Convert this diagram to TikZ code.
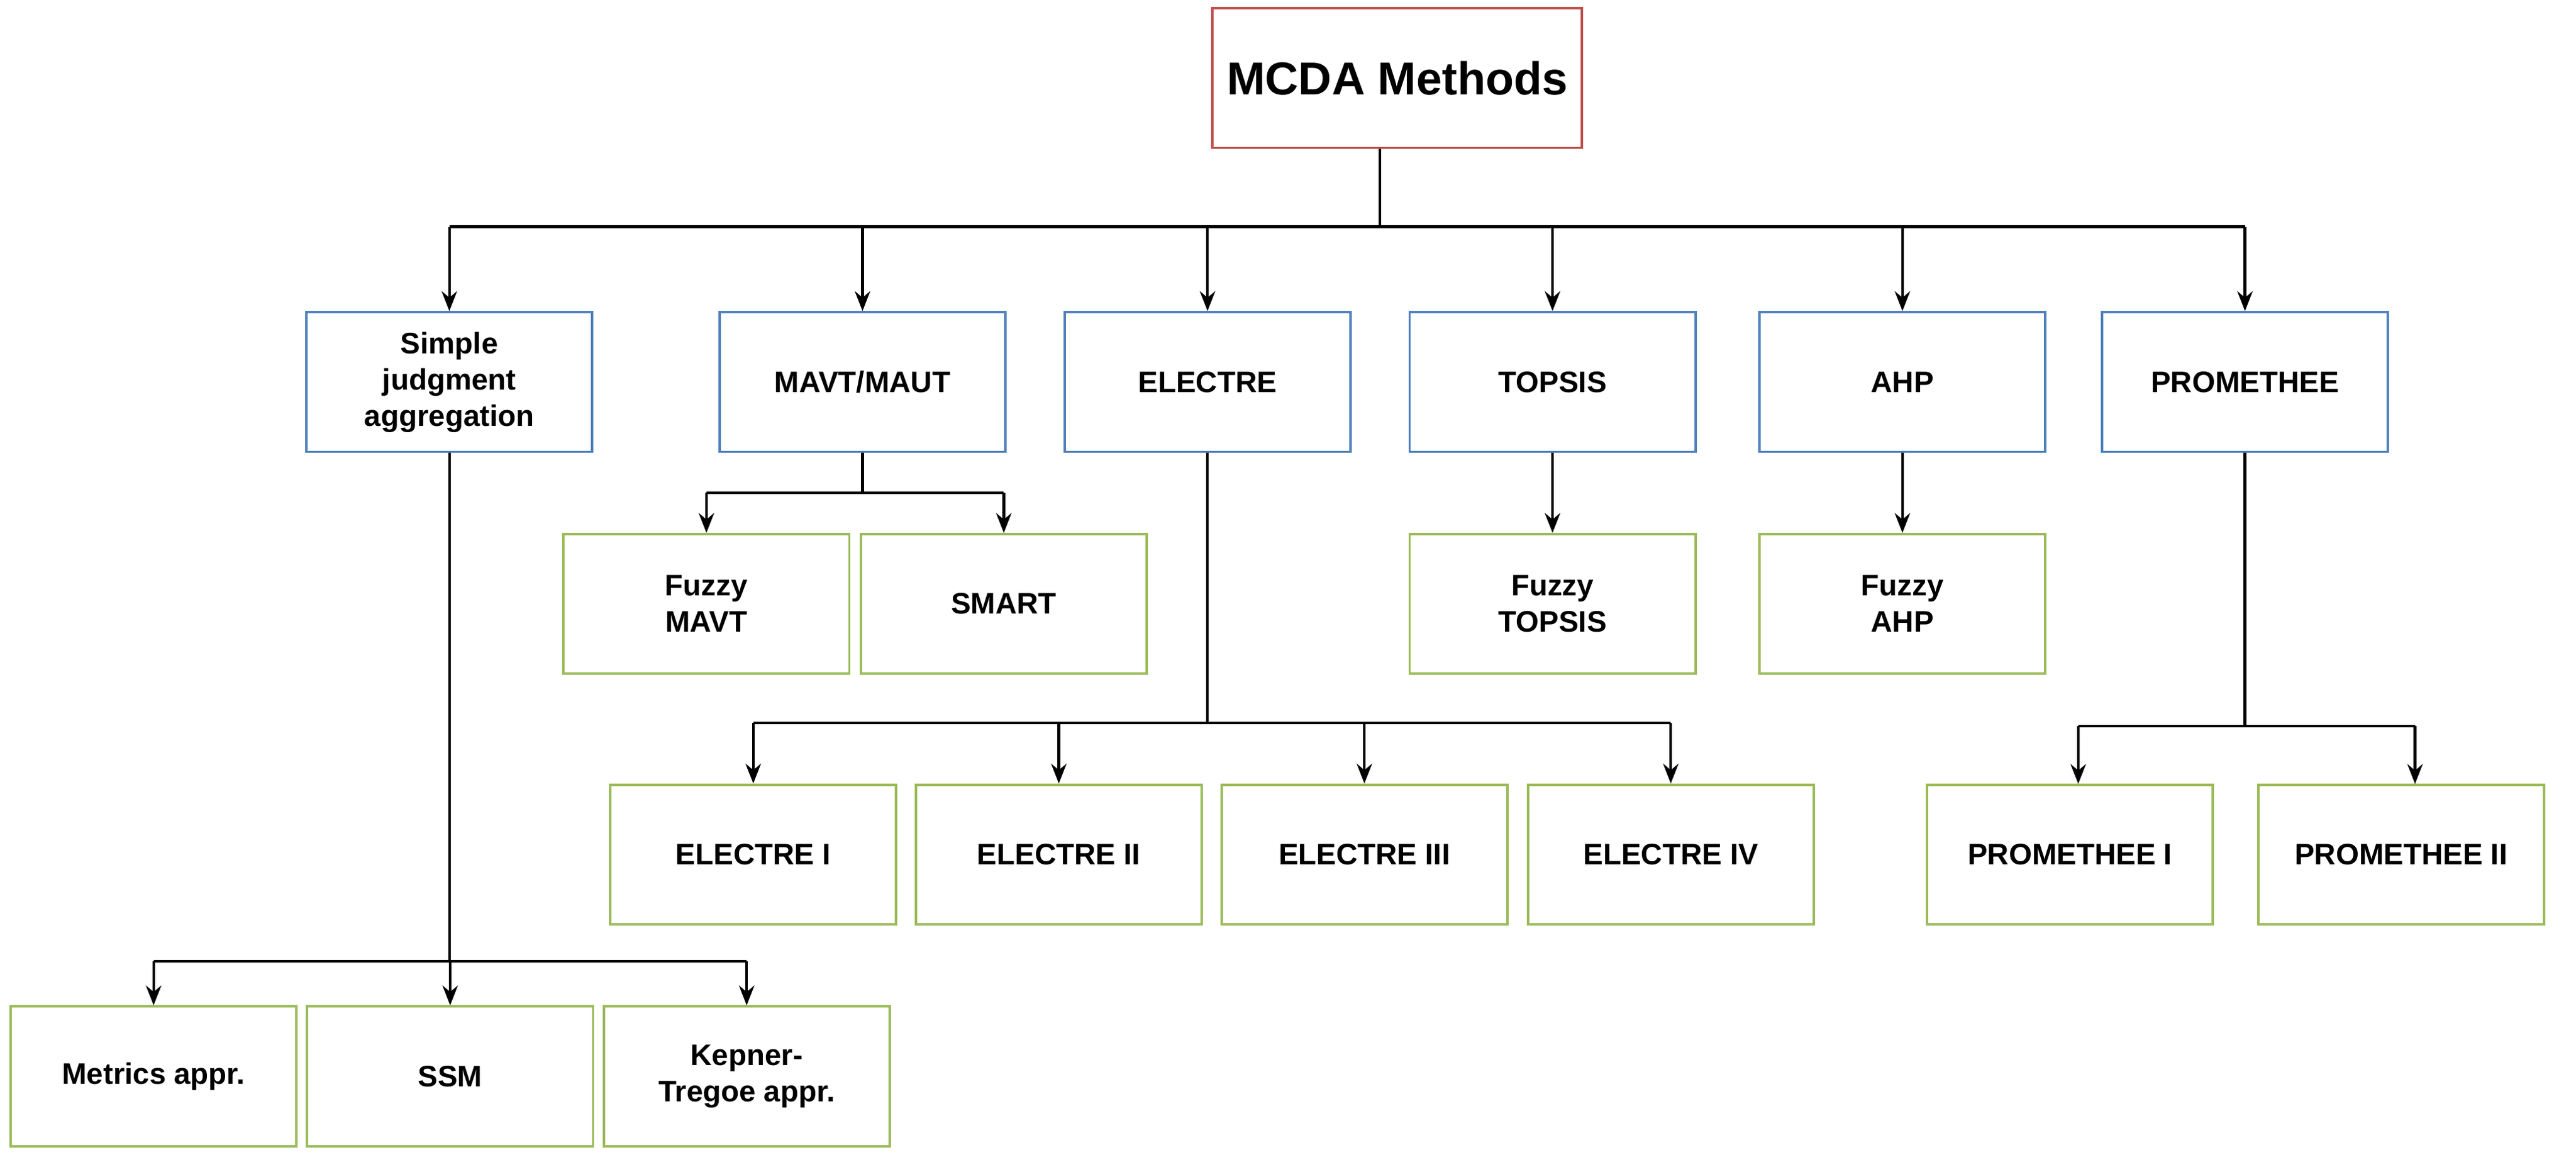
\documentclass[tikz,border=0pt]{standalone}
\usepackage{fontspec}
\setmainfont{Liberation Sans}
\usetikzlibrary{arrows.meta}
\definecolor{bl}{RGB}{79,129,189}
\definecolor{gr}{RGB}{155,187,89}
\definecolor{rd}{RGB}{192,80,77}
\begin{document}
\begin{tikzpicture}[x=0.026276cm,y=-0.026276cm,
 box/.style={draw,line width=1.1pt,minimum width=4.572cm,minimum height=2.233cm,align=center,inner sep=2pt,font=\bfseries\fontsize{13.5}{16.5}\selectfont},
 b/.style={box,draw=bl}, g/.style={box,draw=gr},
 ln/.style={line width=1.2pt},
 ar/.style={ln,-{Stealth[length=9pt,width=7pt]}}]
\useasboundingbox (0,0) rectangle (1568,707);
\node[box,draw=rd,minimum width=5.91cm,font=\bfseries\fontsize{21}{24}\selectfont] (m) at (850.5,47.5) {MCDA Methods};
\node[b] (sj) at (273.5,232.5) {Simple\\judgment\\aggregation};
\node[b] (ma) at (525,232.5) {MAVT/MAUT};
\node[b] (el) at (735,232.5) {ELECTRE};
\node[b] (to) at (945,232.5) {TOPSIS};
\node[b] (ah) at (1158,232.5) {AHP};
\node[b] (pr) at (1366.5,232.5) {PROMETHEE};
\node[g] (fm) at (430,367.5) {Fuzzy\\MAVT};
\node[g] (sm) at (611,367.5) {SMART};
\node[g] (ft) at (945,367.5) {Fuzzy\\TOPSIS};
\node[g] (fa) at (1158,367.5) {Fuzzy\\AHP};
\node[g] (e1) at (458.5,520) {ELECTRE I};
\node[g] (e2) at (644.5,520) {ELECTRE II};
\node[g] (e3) at (830.5,520) {ELECTRE III};
\node[g] (e4) at (1017,520) {ELECTRE IV};
\node[g] (p1) at (1260,520) {PROMETHEE I};
\node[g] (p2) at (1461.5,520) {PROMETHEE II};
\node[g] (mt) at (93.5,655) {Metrics appr.};
\node[g] (ss) at (274,655) {SSM};
\node[g] (kt) at (454.5,655) {Kepner-\\Tregoe appr.};
\coordinate (j0) at (840,138);
\draw[ln] (m.south -| j0) -- (j0);
\draw[ln] (sj.north |- j0) -- (pr.north |- j0);
\foreach \n in {sj,ma,el,to,ah,pr} \draw[ar] (\n.north |- j0) -- (\n.north);
\coordinate (j1) at (525,300);
\draw[ln] (ma.south) -- (j1);
\draw[ln] (fm.north |- j1) -- (sm.north |- j1);
\draw[ar] (fm.north |- j1) -- (fm.north);
\draw[ar] (sm.north |- j1) -- (sm.north);
\draw[ar] (to.south) -- (ft.north);
\draw[ar] (ah.south) -- (fa.north);
\coordinate (j2) at (735,440);
\draw[ln] (el.south) -- (j2);
\draw[ln] (e1.north |- j2) -- (e4.north |- j2);
\foreach \n in {e1,e2,e3,e4} \draw[ar] (\n.north |- j2) -- (\n.north);
\coordinate (j3) at (1366.5,442);
\draw[ln] (pr.south) -- (j3);
\draw[ln] (1265,442) -- (1470,442);
\draw[ar] (1265,442) -- (1265,477);
\draw[ar] (1470,442) -- (1470,477);
\coordinate (j4) at (273.5,585);
\draw[ln] (sj.south) -- (j4);
\draw[ln] (mt.north |- j4) -- (kt.north |- j4);
\foreach \n in {mt,ss,kt} \draw[ar] (\n.north |- j4) -- (\n.north);
\end{tikzpicture}
\end{document}
